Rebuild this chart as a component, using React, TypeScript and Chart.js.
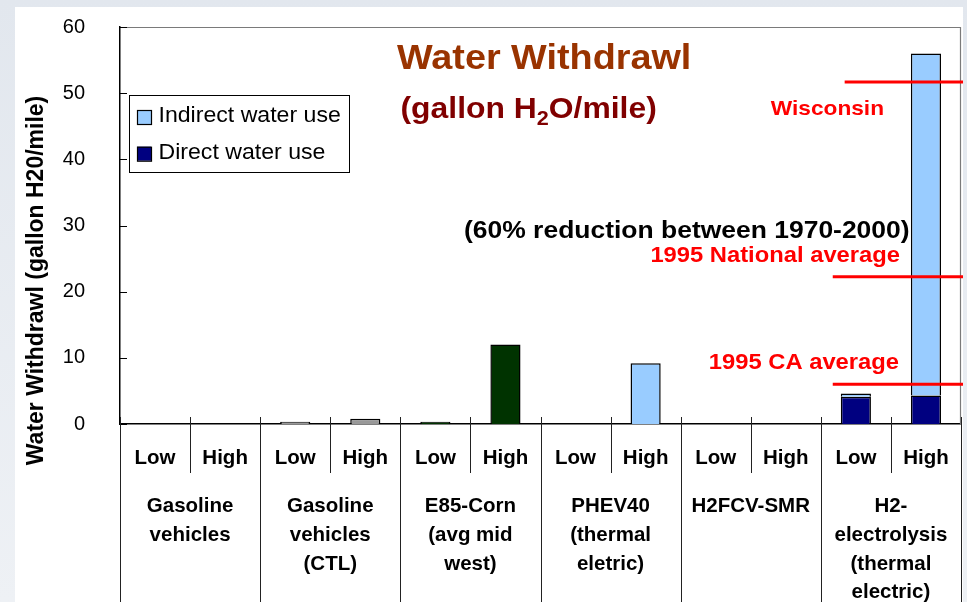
import React, { useEffect, useRef } from "react";
import { Chart, registerables } from "chart.js";

Chart.register(...registerables);

// ---------- data ----------
const levels = ["Low", "High", "Low", "High", "Low", "High", "Low", "High", "Low", "High", "Low", "High"];
const groups = [
  ["Gasoline", "vehicles"],
  ["Gasoline", "vehicles", "(CTL)"],
  ["E85-Corn", "(avg mid", "west)"],
  ["PHEV40", "(thermal", "eletric)"],
  ["H2FCV-SMR"],
  ["H2-", "electrolysis", "(thermal", "electric)"],
];
const directUse = [0, 0, 0.35, 0.8, 0.35, 12, 0, 0, 0, 0, 4.1, 4.3];
const indirectUse = [0, 0, 0, 0, 0, 0, 0, 9.2, 0, 0, 0.5, 51.7];
const directColors = [
  "#000080", "#000080", "#999999", "#999999", "#003300", "#003300",
  "#000080", "#000080", "#000080", "#000080", "#000080", "#000080",
];
const indirectColor = "#99CCFF";
const seriesLabels = ["Direct water use", "Indirect water use"];
const yMin = 0;
const yMax = 60;
const yStep = 10;
const refLevels = [51.7, 22.25, 6.0];
const refLabels = ["Wisconsin", "1995 National average", "1995 CA average"];
const titleText = "Water Withdrawl";
const subtitleParts = ["(gallon H", "2", "O/mile)"];
const noteText = "(60% reduction between 1970-2000)";
const yAxisTitle = "Water Withdrawl (gallon H20/mile)";

const FONT = '"Liberation Sans", Arial, sans-serif';
const SX = 1.08;

function drawText(
  ctx: CanvasRenderingContext2D,
  text: string,
  x: number,
  y: number,
  font: string,
  color: string,
  align: "left" | "right" | "center",
  sx = 1
) {
  ctx.save();
  ctx.font = font;
  ctx.fillStyle = color;
  ctx.textBaseline = "alphabetic";
  ctx.textAlign = "left";
  const w = ctx.measureText(text).width * sx;
  const left = align === "left" ? x : align === "right" ? x - w : x - w / 2;
  ctx.translate(left, y);
  ctx.scale(sx, 1);
  ctx.fillText(text, 0, 0);
  ctx.restore();
  return w;
}

const backgroundPlugin = {
  id: "slideBackground",
  beforeDraw(chart: any) {
    const { ctx, width, height } = chart;
    ctx.save();
    const g = ctx.createLinearGradient(0, 0, 0, height);
    g.addColorStop(0, "#e2e7ee");
    g.addColorStop(1, "#eef1f5");
    ctx.fillStyle = g;
    ctx.fillRect(0, 0, width, height);
    ctx.fillStyle = "#ffffff";
    ctx.fillRect(15, 7, width - 15 - 4, height - 7);
    ctx.restore();
  },
};

const decorPlugin = {
  id: "decor",
  afterDraw(chart: any) {
    const { ctx, chartArea } = chart;
    const xs = chart.scales.x;
    const ys = chart.scales.y;
    const { left, right, top, bottom } = chartArea;
    const slotW = xs.getPixelForValue(1) - xs.getPixelForValue(0);
    const H = chart.height;

    ctx.save();
    // frame top & right
    ctx.strokeStyle = "#7a7a7a";
    ctx.lineWidth = 1.2;
    ctx.beginPath();
    ctx.moveTo(left, top + 0.5);
    ctx.lineTo(right, top + 0.5);
    ctx.moveTo(right - 0.5, top);
    ctx.lineTo(right - 0.5, bottom);
    ctx.stroke();

    // y inward ticks
    ctx.strokeStyle = "#000";
    ctx.lineWidth = 1;
    ctx.beginPath();
    for (let v = yMin; v <= yMax; v += yStep) {
      const py = Math.round(ys.getPixelForValue(v)) + 0.5;
      ctx.moveTo(left, py);
      ctx.lineTo(left + 7, py);
    }
    ctx.stroke();

    // category boundaries
    ctx.strokeStyle = "#222";
    ctx.lineWidth = 1;
    ctx.beginPath();
    for (let i = 0; i <= levels.length; i++) {
      const px = Math.round(xs.getPixelForValue(0) - slotW / 2 + i * slotW) + 0.5;
      const isGroup = i % 2 === 0;
      ctx.moveTo(px, bottom - 7);
      ctx.lineTo(px, isGroup ? H : bottom + 49);
    }
    ctx.stroke();
    ctx.restore();

    // level labels
    const catFont = `bold 20.5px ${FONT}`;
    levels.forEach((lab, i) => {
      drawText(ctx, lab, xs.getPixelForValue(i), bottom + 40, catFont, "#000", "center");
    });
    // group labels
    groups.forEach((lines, g) => {
      const cx = (xs.getPixelForValue(2 * g) + xs.getPixelForValue(2 * g + 1)) / 2;
      lines.forEach((ln, k) => {
        drawText(ctx, ln, cx, bottom + 88 + k * 28.8, catFont, "#000", "center");
      });
    });

    // legend
    ctx.save();
    const lx = left + 9, ly = 95, lw = 220, lh = 77;
    ctx.fillStyle = "#fff";
    ctx.fillRect(lx, ly, lw, lh);
    ctx.strokeStyle = "#000";
    ctx.lineWidth = 1;
    ctx.strokeRect(lx + 0.5, ly + 0.5, lw, lh);
    const legendItems = [
      { label: seriesLabels[1], color: indirectColor },
      { label: seriesLabels[0], color: directColors[11] },
    ];
    legendItems.forEach((it, k) => {
      const sy = ly + 15 + k * 36.7;
      ctx.fillStyle = it.color;
      ctx.fillRect(lx + 8, sy, 14, 14);
      ctx.strokeStyle = "#000";
      ctx.lineWidth = 1.2;
      ctx.strokeRect(lx + 8.5, sy + 0.5, 14, 14);
      drawText(ctx, it.label, lx + 29.5, sy + 12, `22px ${FONT}`, "#000", "left", 1.05);
    });
    ctx.restore();

    // reference lines
    const refOffsets = [-0.16, -0.33, -0.33];
    ctx.save();
    ctx.strokeStyle = "#ff0000";
    ctx.lineWidth = 3;
    refLevels.forEach((v, k) => {
      const py = ys.getPixelForValue(v);
      const x0 = xs.getPixelForValue(10) + refOffsets[k] * slotW;
      ctx.beginPath();
      ctx.moveTo(x0, py);
      ctx.lineTo(chart.width - 4, py);
      ctx.stroke();
    });
    ctx.restore();
    const redFont = `bold 22px ${FONT}`;
    drawText(ctx, refLabels[0], right - 77, ys.getPixelForValue(refLevels[0]) + 33, `bold 21px ${FONT}`, "#ff0000", "right", SX);
    drawText(ctx, refLabels[1], right - 61, ys.getPixelForValue(refLevels[1]) - 14.5, redFont, "#ff0000", "right", SX);
    drawText(ctx, refLabels[2], right - 62, ys.getPixelForValue(refLevels[2]) - 15, redFont, "#ff0000", "right", SX);

    // titles
    drawText(ctx, titleText, 397, 68.5, `bold 35px ${FONT}`, "#993300", "left", SX);
    const subFont = `bold 29.5px ${FONT}`;
    let sxp = 400.5;
    sxp += drawText(ctx, subtitleParts[0], sxp, 117.5, subFont, "#800000", "left", SX);
    sxp += drawText(ctx, subtitleParts[1], sxp, 125, `bold 20px ${FONT}`, "#800000", "left", SX);
    drawText(ctx, subtitleParts[2], sxp, 117.5, subFont, "#800000", "left", SX);
    drawText(ctx, noteText, 464, 237.5, `bold 24.5px ${FONT}`, "#000", "left", SX);

    // y axis title
    ctx.save();
    ctx.translate(37, 280.5);
    ctx.rotate(-Math.PI / 2);
    ctx.font = `bold 23px ${FONT}`;
    ctx.fillStyle = "#000";
    ctx.textAlign = "center";
    ctx.textBaseline = "middle";
    ctx.fillText(yAxisTitle, 0, 0);
    ctx.restore();
  },
};

export default function App() {
  const ref = useRef<HTMLCanvasElement | null>(null);

  useEffect(() => {
    document.body.style.margin = "0";
    if (!ref.current) return;
    const chart = new Chart(ref.current, {
      type: "bar",
      data: {
        labels: levels,
        datasets: [
          {
            label: seriesLabels[0],
            data: directUse,
            backgroundColor: directColors,
            borderColor: "#000",
            borderWidth: 1.5,
            barPercentage: 0.43,
            categoryPercentage: 1,
          },
          {
            label: seriesLabels[1],
            data: indirectUse,
            backgroundColor: indirectColor,
            borderColor: "#000",
            borderWidth: 1.5,
            barPercentage: 0.43,
            categoryPercentage: 1,
          },
        ],
      },
      options: {
        responsive: false,
        animation: false,
        devicePixelRatio: 1,
        layout: { padding: { left: 0, top: 27, right: 6, bottom: 178 } },
        plugins: {
          legend: { display: false },
          tooltip: { enabled: false },
          title: { display: false },
        },
        scales: {
          x: {
            stacked: true,
            grid: { display: false },
            ticks: { display: false },
            border: { display: true, color: "#000", width: 1.5 },
            afterFit: (s: any) => {
              s.height = 0;
              s.paddingLeft = 0;
              s.paddingRight = 0;
            },
          },
          y: {
            stacked: true,
            min: yMin,
            max: yMax,
            grid: { display: false },
            border: { display: true, color: "#000", width: 1.5 },
            ticks: {
              stepSize: yStep,
              padding: 27,
              color: "#000",
              font: { family: FONT, size: 20 },
            },
            afterFit: (s: any) => {
              s.width = 120;
              s.paddingTop = 0;
              s.paddingBottom = 0;
            },
          },
        },
      },
      plugins: [backgroundPlugin, decorPlugin],
    } as any);
    return () => chart.destroy();
  }, []);

  return (
    <div style={{ position: "absolute", left: 0, top: 0, width: 967, height: 602 }}>
      <canvas ref={ref} width={967} height={602} style={{ width: 967, height: 602, display: "block" }} />
    </div>
  );
}
